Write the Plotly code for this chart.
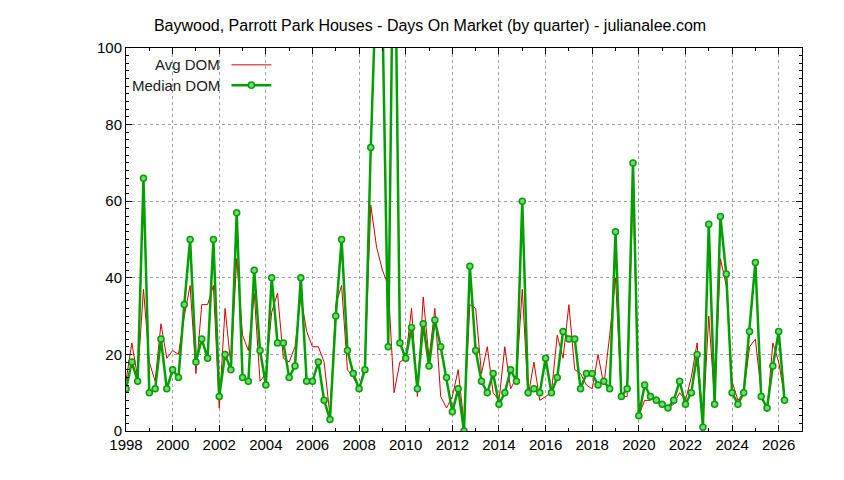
import plotly.graph_objects as go

# quarterly Days On Market, starting 1998 Q1
start_year = 1998
median_dom = [
    11, 18, 13, 66, 10, 11, 24, 11, 16, 14, 33, 50, 18, 24, 19, 50,
    9, 20, 16, 57, 14, 13, 42, 21, 12, 40, 23, 23, 14, 17, 40, 13,
    13, 18, 8, 3, 30, 50, 21, 15, 11, 16, 74, 120, 110, 22, 150, 23,
    19, 27, 11, 28, 17, 29, 22, 14, 5, 11, 0, 43, 21, 13, 10, 15,
    7, 10, 16, 13, 60, 10, 11, 10, 19, 10, 14, 26, 24, 24, 11, 15,
    15, 12, 13, 11, 52, 9, 11, 70, 4, 12, 9, 8, 7, 6, 8, 13,
    7, 10, 20, 1, 54, 7, 56, 41, 10, 7, 10, 26, 44, 9, 6, 17,
    26, 8,
]
avg_dom = [
    13, 23, 14, 37, 18, 13, 28, 19, 21, 20, 30, 38, 15, 33, 33, 38,
    6, 32, 17, 45, 25, 21, 36, 13, 15, 31, 36, 19, 18, 22, 35, 26,
    22, 22, 18, 4, 33, 38, 16, 14, 11, 17, 59, 48, 42, 38, 10, 18,
    19, 32, 9, 35, 19, 32, 9, 6, 9, 16, 2, 33, 32, 15, 22, 10,
    8, 22, 11, 14, 37, 9, 18, 8, 9, 10, 25, 19, 33, 16, 15, 12,
    11, 20, 12, 25, 40, 9, 9, 64, 4, 8, 8, 9, 7, 6, 7, 10,
    8, 14, 23, 2, 30, 8, 45, 38, 13, 8, 10, 22, 24, 10, 5, 23,
    18, 9,
]
quarters = [start_year + i / 4 for i in range(len(median_dom))]

green = "rgb(0,160,0)"
red = "rgb(220,0,0)"
marker_fill = "rgb(120,210,120)"

fig = go.Figure()
fig.add_trace(go.Scatter(
    x=quarters, y=avg_dom, mode="lines", name="Avg DOM",
    line=dict(color=red, width=1),
))
fig.add_trace(go.Scatter(
    x=quarters, y=median_dom, mode="lines+markers", name="Median DOM",
    line=dict(color=green, width=2.5),
    marker=dict(symbol="circle", size=6, color=marker_fill,
                line=dict(color=green, width=1.5)),
))

# gnuplot-style key, top left inside the plot
key = [("Avg DOM", red, False, 0.956), ("Median DOM", green, True, 0.903)]
for label, col, with_marker, yk in key:
    fig.add_annotation(x=0.142, y=yk, xref="paper", yref="paper", text=label,
                       showarrow=False, xanchor="right", yanchor="middle",
                       font=dict(size=15, color="#222"))
    fig.add_shape(type="line", xref="paper", yref="paper",
                  x0=0.156, x1=0.215, y0=yk, y1=yk,
                  line=dict(color=col, width=2.5 if with_marker else 1))
    if with_marker:
        fig.add_shape(type="circle", xref="paper", yref="paper",
                      x0=0.181, x1=0.190, y0=yk - 0.008, y1=yk + 0.008,
                      fillcolor=marker_fill, line=dict(color=green, width=1.5))

axis_common = dict(
    showline=True, mirror="ticks", linecolor="black", linewidth=1,
    ticks="inside", ticklen=6, tickcolor="black",
    showgrid=True, gridcolor="#a0a0a0", griddash="dot", gridwidth=1,
    zeroline=False, tickfont=dict(size=15, color="black"),
)
fig.update_xaxes(range=[1998, 2027], dtick=2, tick0=1998,
                 minor=dict(dtick=1, ticks="inside", ticklen=3, tickcolor="black", showgrid=False),
                 **axis_common)
fig.update_yaxes(range=[0, 100], dtick=20,
                 minor=dict(dtick=2, ticks="inside", ticklen=3, tickcolor="black", showgrid=False),
                 **axis_common)

fig.update_layout(
    width=844, height=480,
    margin=dict(l=118, r=50, t=40, b=57),
    paper_bgcolor="white", plot_bgcolor="white",
    font=dict(family="Liberation Sans, Arial, sans-serif", color="black"),
    title=dict(text="Baywood, Parrott Park Houses - Days On Market (by quarter) - julianalee.com",
               x=0.5, xanchor="center", y=0.975, font=dict(size=16)),
    showlegend=False,
)

fig.write_html("out.html")
